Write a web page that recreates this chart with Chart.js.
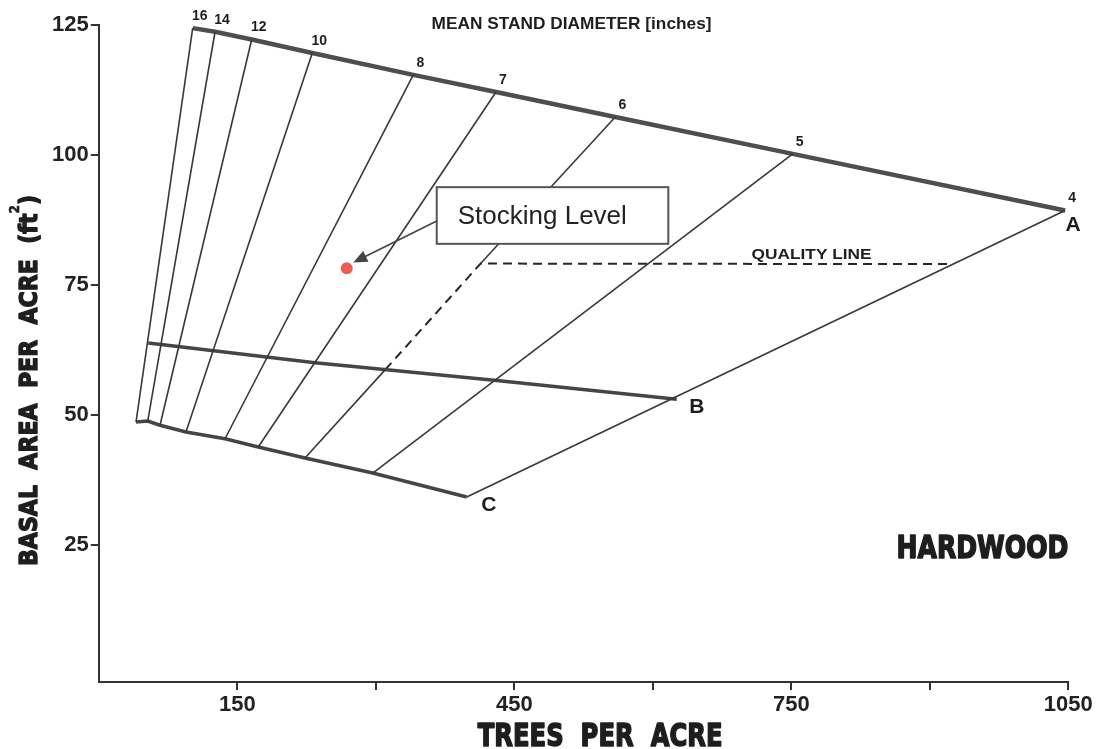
<!DOCTYPE html>
<html>
<head>
<meta charset="utf-8">
<title>Hardwood stocking chart</title>
<script src="https://cdn.jsdelivr.net/npm/chart.js@4.4.1/dist/chart.umd.min.js"></script>
<style>
  html, body { margin: 0; padding: 0; background: #fff; }
  #wrap { width: 1102px; height: 749px; }
</style>
</head>
<body>
<div id="wrap"><canvas id="chart" width="1102" height="749"></canvas></div>
<script>
// Mean stand diameter (inches), one line per value, from the A-line down to the C-line
const diameterLabels = ['16', '14', '12', '10', '8', '7', '6', '5', '4'];

// A-line (top, 100% stocking)
const aLineX = [101.7, 125.9, 165.6, 231.2, 340.6, 430.2, 559.4, 751.5, 1046.5];
const aLineY = [124.4, 123.7, 122.2, 119.6, 115.4, 112.1, 107.3, 100.2, 89.3];

// C-line (bottom)
const cLineX = [40.3, 53.0, 66.3, 94.4, 136.7, 172.7, 223.3, 296.7, 398.5];
const cLineY = [48.6, 48.8, 48.0, 46.7, 45.4, 43.8, 41.7, 38.8, 34.2];

// B-line
const bLineX = [53.6, 234.2, 431.0, 625.9];
const bLineY = [63.8, 60.0, 56.6, 53.0];

// Quality line (dashed): from the B-line up the 6 in. line, then across to the A-B line
const qualityX = [310.3, 413.5, 921.0];
const qualityY = [58.7, 79.1, 79.0];
const qualityOn = '6';

// Stocking level point
const stockX = [268.5];
const stockY = [78.2];

// Axes
const xTicks = [150, 300, 450, 600, 750, 900, 1050];
const xTickLabels = [150, 450, 750, 1050];
const yTicks = [25, 50, 75, 100, 125];

const pts = (xs, ys) => xs.map((v, i) => ({ x: v, y: ys[i] }));

// lineas de diametro (la de 6 pulgadas se interrumpe donde va la linea de calidad)
const diameterSets = diameterLabels.map((d, i) => {
    const top = { x: aLineX[i], y: aLineY[i] };
    const bottom = { x: cLineX[i], y: cLineY[i] };
    const split = d === qualityOn;
    return {
        label: d + ' in',
        data: split
            ? [top, { x: qualityX[1], y: qualityY[1] }, { x: qualityX[0], y: qualityY[0] }, bottom]
            : [top, bottom],
        showLine: true,
        borderColor: '#383838',
        borderWidth: 1.6,
        pointRadius: 0,
        segment: split ? { borderColor: c => c.p0DataIndex === 1 ? 'rgba(0,0,0,0)' : undefined } : undefined
    };
});

const datasets = [
    ...diameterSets,
    {
        label: 'A-line',
        data: pts(aLineX, aLineY),
        showLine: true,
        borderColor: '#4e4e4e',
        borderWidth: 4.5,
        pointRadius: 0
    },
    {
        label: 'B-line',
        data: pts(bLineX, bLineY),
        showLine: true,
        borderColor: '#454545',
        borderWidth: 3.5,
        pointRadius: 0
    },
    {
        label: 'C-line',
        data: pts(cLineX, cLineY),
        showLine: true,
        borderColor: '#454545',
        borderWidth: 3.5,
        pointRadius: 0
    },
    {
        label: 'Quality line',
        data: pts(qualityX, qualityY),
        showLine: true,
        borderColor: '#262626',
        borderWidth: 2,
        borderDash: [9, 6],
        pointRadius: 0
    },
    {
        label: 'Stocking level',
        data: pts(stockX, stockY),
        showLine: false,
        pointRadius: 6,
        pointBackgroundColor: '#ef5b55',
        pointBorderWidth: 0
    }
];

// bold text squeezed/stretched to a given width, centred on cx, caps centred on cy
function fitText(ctx, text, cx, cy, width, cap, family, stroke) {
    const size = cap / 0.73;
    ctx.font = `bold ${size}px ${family}`;
    const w = ctx.measureText(text).width;
    ctx.save();
    ctx.translate(cx, cy + cap / 2);
    ctx.scale(width / w, 1);
    ctx.textAlign = 'center';
    ctx.textBaseline = 'alphabetic';
    ctx.fillText(text, 0, 0);
    if (stroke) {
        ctx.strokeStyle = ctx.fillStyle;
        ctx.lineWidth = stroke;
        ctx.lineJoin = 'round';
        ctx.strokeText(text, 0, 0);
    }
    ctx.restore();
}

const overlay = {
    id: 'overlay',
    afterDatasetsDraw(chart) {
        const { ctx, scales: { x, y } } = chart;
        ctx.save();
        ctx.fillStyle = '#1e1e1e';

        // diameter numbers above the A-line
        ctx.font = 'bold 14px "Liberation Sans", Arial, sans-serif';
        ctx.textAlign = 'center';
        ctx.textBaseline = 'middle';
        diameterLabels.forEach((d, i) => {
            ctx.fillText(d, x.getPixelForValue(aLineX[i]) + 7, y.getPixelForValue(aLineY[i]) - 12);
        });

        // A, B, C end labels
        ctx.font = 'bold 21px "Liberation Sans", Arial, sans-serif';
        const last = aLineX.length - 1;
        ctx.fillText('A', x.getPixelForValue(aLineX[last]) + 8, y.getPixelForValue(aLineY[last]) + 15);
        ctx.fillText('B', x.getPixelForValue(bLineX[bLineX.length - 1]) + 20, y.getPixelForValue(bLineY[bLineY.length - 1]) + 8);
        ctx.fillText('C', x.getPixelForValue(cLineX[last]) + 22, y.getPixelForValue(cLineY[last]) + 8);

        // quality line label
        fitText(ctx, 'QUALITY LINE', x.getPixelForValue(772), y.getPixelForValue(qualityY[2]) - 11, 120, 11, '"Liberation Sans", Arial, sans-serif');

        // callout box
        const bx0 = x.getPixelForValue(366), bx1 = x.getPixelForValue(616.8);
        const by0 = y.getPixelForValue(93.8), by1 = y.getPixelForValue(82.9);
        ctx.fillStyle = '#fff';
        ctx.fillRect(bx0, by0, bx1 - bx0, by1 - by0);
        ctx.strokeStyle = '#555';
        ctx.lineWidth = 2;
        ctx.strokeRect(bx0, by0, bx1 - bx0, by1 - by0);
        ctx.fillStyle = '#222';
        ctx.font = '26px "Liberation Sans", Arial, sans-serif';
        ctx.textAlign = 'left';
        ctx.textBaseline = 'alphabetic';
        ctx.fillText('Stocking Level', bx0 + 21, by0 + 37);

        // arrow to the point
        const sx = bx0, sy = y.getPixelForValue(87.3);
        const tx = x.getPixelForValue(275.6), ty = y.getPixelForValue(79.3);
        const ang = Math.atan2(ty - sy, tx - sx);
        ctx.strokeStyle = '#444';
        ctx.lineWidth = 1.6;
        ctx.beginPath();
        ctx.moveTo(sx, sy);
        ctx.lineTo(tx - 10 * Math.cos(ang), ty - 10 * Math.sin(ang));
        ctx.stroke();
        ctx.fillStyle = '#444';
        ctx.beginPath();
        ctx.moveTo(tx, ty);
        ctx.lineTo(tx - 14 * Math.cos(ang) + 6 * Math.sin(ang), ty - 14 * Math.sin(ang) - 6 * Math.cos(ang));
        ctx.lineTo(tx - 14 * Math.cos(ang) - 6 * Math.sin(ang), ty - 14 * Math.sin(ang) + 6 * Math.cos(ang));
        ctx.closePath();
        ctx.fill();
        ctx.restore();
    },
    afterDraw(chart) {
        const { ctx, chartArea, scales: { x, y } } = chart;
        const heavy = '"DejaVu Sans", sans-serif';
        ctx.save();
        ctx.fillStyle = '#1e1e1e';

        fitText(ctx, 'MEAN STAND DIAMETER [inches]', x.getPixelForValue(512), chartArea.top - 2, 280, 12, '"Liberation Sans", Arial, sans-serif');
        fitText(ctx, 'HARDWOOD', x.getPixelForValue(957), y.getPixelForValue(24.6), 172, 23, heavy, 1.6);
        fitText(ctx, 'TREES  PER  ACRE', x.getPixelForValue(543), 734, 245, 23, heavy, 1.6);

        // y title, rotated, with superscript
        const cap = 18.5, size = cap / 0.73;
        const parts = [
            { t: 'BASAL  AREA  PER  ACRE  (ft', s: size, dy: 0, lw: 1.4 },
            { t: '2', s: size * 0.55, dy: -cap * 0.95, lw: 0.6 },
            { t: ')', s: size, dy: 0, lw: 1.4 }
        ];
        let total = 0;
        parts.forEach(p => { ctx.font = `bold ${p.s}px ${heavy}`; p.w = ctx.measureText(p.t).width; total += p.w; });
        const len = 371;
        ctx.translate(27.8 + cap / 2, 380.5);
        ctx.rotate(-Math.PI / 2);
        ctx.scale(len / total, 1);
        ctx.textAlign = 'left';
        ctx.textBaseline = 'alphabetic';
        ctx.strokeStyle = ctx.fillStyle;
        ctx.lineJoin = 'round';
        let cx = -total / 2;
        parts.forEach(p => {
            ctx.font = `bold ${p.s}px ${heavy}`;
            ctx.lineWidth = p.lw;
            ctx.fillText(p.t, cx, p.dy);
            ctx.strokeText(p.t, cx, p.dy);
            cx += p.w;
        });
        ctx.restore();
    }
};

const tickFont = { family: '"Liberation Sans", Arial, sans-serif', size: 22, weight: 'bold' };

new Chart(document.getElementById('chart').getContext('2d'), {
    type: 'scatter',
    data: { datasets },
    options: {
        responsive: false,
        animation: false,
        layout: { padding: { left: 0, top: 25, right: 33.7, bottom: 0 } },
        plugins: { legend: { display: false }, tooltip: { enabled: false } },
        scales: {
            x: {
                type: 'linear',
                min: 0,
                max: 1050,
                afterFit: s => { s.height = 67; },
                afterBuildTicks: s => { s.ticks = xTicks.map(v => ({ value: v })); },
                grid: { drawOnChartArea: false, drawTicks: true, tickLength: 8, color: '#333', lineWidth: 2 },
                border: { display: true, color: '#333', width: 2 },
                ticks: {
                    autoSkip: false,
                    maxRotation: 0,
                    padding: 2,
                    color: '#222',
                    font: tickFont,
                    callback: v => xTickLabels.includes(v) ? String(v) : ''
                }
            },
            y: {
                type: 'linear',
                min: -1.4,
                max: 125,
                afterFit: s => { s.width = 98.8; },
                afterBuildTicks: s => { s.ticks = yTicks.map(v => ({ value: v })); },
                grid: { drawOnChartArea: false, drawTicks: true, tickLength: 8, color: '#333', lineWidth: 2 },
                border: { display: true, color: '#333', width: 2 },
                ticks: {
                    autoSkip: false,
                    padding: 2,
                    color: '#222',
                    font: tickFont,
                    callback: v => String(v)
                }
            }
        }
    },
    plugins: [overlay]
});
</script>
</body>
</html>
